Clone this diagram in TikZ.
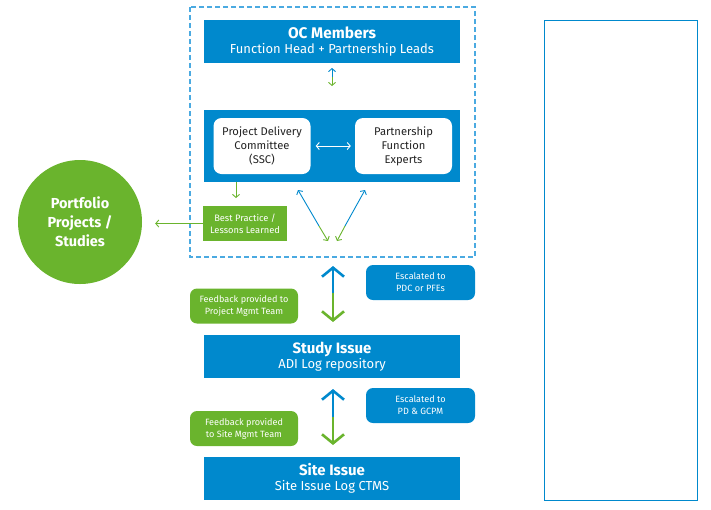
\documentclass[tikz,border=0pt]{standalone}
\usepackage{fontspec}
\setmainfont{Fira Sans}
\usetikzlibrary{positioning,arrows.meta}
\definecolor{ocblue}{RGB}{0,137,205}
\definecolor{ocgreen}{RGB}{106,180,45}
\definecolor{dashblue}{RGB}{75,170,225}
\definecolor{darktext}{RGB}{35,35,35}

\begin{document}
\begin{tikzpicture}[x=1pt, y=-1pt,
    bluebar/.style={fill=ocblue, text=white, align=center, inner sep=0pt, minimum width=256pt, minimum height=43pt, font=\fontsize{13}{15.5}\selectfont},
    whitebox/.style={fill=white, rounded corners=8pt, text=darktext, align=center, inner sep=0pt, minimum width=97pt, minimum height=56pt, font=\fontsize{11.2}{14}\selectfont},
    tag/.style={rounded corners=7pt, text=white, align=center, inner sep=0pt, minimum width=109pt, minimum height=35pt, font=\fontsize{9.1}{12}\selectfont},
    thin arrow/.style={line width=0.9pt, -{Straight Barb[length=3pt,width=7pt]}},
    big arrow/.style={line width=2.6pt, -{Straight Barb[length=9pt,width=22pt]}}]
    \useasboundingbox (0,0) rectangle (711,509);

    \draw[dashblue, line width=1.2pt, dash pattern=on 5pt off 3pt] (190,7) rectangle (475,257);
    \node (panel) [draw=ocblue, line width=1pt, minimum width=153pt, minimum height=480pt, inner sep=0pt] at (620.5,260) {};

    \node (oc) [bluebar] at (332,41.5) {{\fontsize{15.4}{17}\selectfont\bfseries OC Members}\\ Function Head + Partnership Leads};
    \node (core) [bluebar, minimum height=72pt] at (332,146) {};
    \node (pdc) [whitebox] at (262,146) {Project Delivery\\ Committee\\ (SSC)};
    \node (pfe) [whitebox] at (403.5,146) {Partnership\\ Function\\ Experts};
    \node (best) [fill=ocgreen, text=white, align=center, inner sep=0pt, minimum width=84pt, minimum height=35pt, font=\fontsize{9.3}{12}\selectfont] at (245,223.5) {Best Practice /\\ Lessons Learned};
    \node (port) [circle, fill=ocgreen, text=white, align=center, minimum size=124pt, font=\fontsize{14.5}{19}\selectfont\bfseries] at (80,222) {Portfolio\\ Projects /\\ Studies};

    \node (esc1) [tag, fill=ocblue] at (420.5,282.5) {Escalated to\\ PDC or PFEs};
    \node (fb1) [tag, fill=ocgreen, minimum width=108pt] at (244,306) {Feedback provided to\\ Project Mgmt Team};
    \node (study) [bluebar] at (332,356.5) {{\fontsize{15}{17}\selectfont\bfseries Study Issue}\\ ADI Log repository};
    \node (esc2) [tag, fill=ocblue] at (420.5,405.5) {Escalated to\\ PD \& GCPM};
    \node (fb2) [tag, fill=ocgreen, minimum width=108pt] at (244,428.5) {Feedback provided\\ to Site Mgmt Team};
    \node (site) [bluebar] at (332,478.5) {{\fontsize{15}{17}\selectfont\bfseries Site Issue}\\ Site Issue Log CTMS};

    % two-coloured double arrows
    \coordinate (m0) at (332,77);
    \draw[thin arrow, ocblue] (m0) -- (332,68);
    \draw[thin arrow, ocgreen] (m0) -- (332,86);
    \draw[white, line width=0.9pt, {Straight Barb[length=3pt,width=7pt]}-{Straight Barb[length=3pt,width=7pt]}, shorten <=5pt, shorten >=4pt] (pdc) -- (pfe);
    \draw[thin arrow, ocgreen] (236,182) -- (236,198);
    \draw[thin arrow, ocgreen] (best.west) -- (port.east |- best.west) [shorten >=13pt];

    \coordinate (d1) at (319,226);
    \draw[thin arrow, ocblue] (d1) -- (298,190);
    \draw[thin arrow, ocgreen] (d1) -- (328,241);
    \coordinate (d2) at (345,226);
    \draw[thin arrow, ocblue] (d2) -- (365,190);
    \draw[thin arrow, ocgreen] (d2) -- (337,241);

    \coordinate (m1) at (333,293);
    \draw[big arrow, ocblue] (m1) -- (333,266);
    \draw[big arrow, ocgreen] (m1) -- (333,322);
    \coordinate (m2) at (333,417);
    \draw[big arrow, ocblue] (m2) -- (333,389);
    \draw[big arrow, ocgreen] (m2) -- (333,445);
\end{tikzpicture}
\end{document}
